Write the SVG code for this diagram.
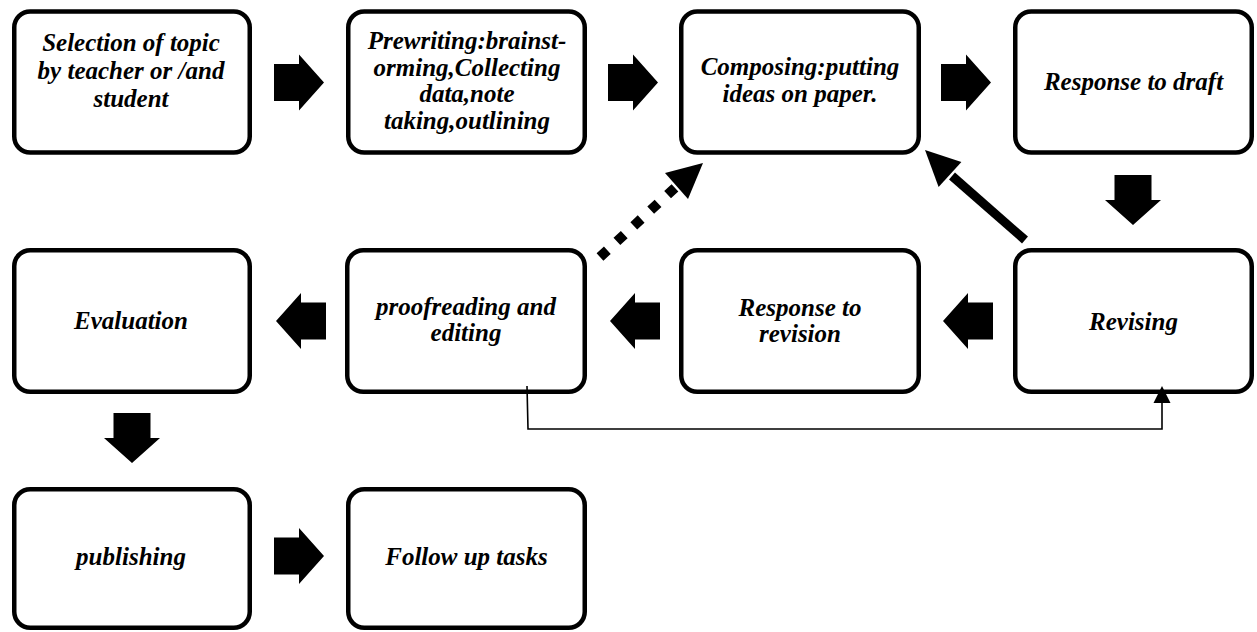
<svg xmlns="http://www.w3.org/2000/svg" width="1257" height="632" viewBox="0 0 1257 632">
<style>
.box{fill:#fff;stroke:#000;stroke-width:4.5}
.t{font-family:"Liberation Serif","Times New Roman",serif;font-size:25px;font-weight:bold;font-style:italic;text-anchor:middle;fill:#000}
.blk{fill:#000}
</style>
<defs>
<path id="barrow" d="M0,-18.5 H25 V-28 L50,0 L25,28 V18.5 H0 Z"/>
</defs>
<rect width="1257" height="632" fill="#fff"/>
<g id="n1"><rect class="box" x="14.25" y="11.5" width="235.5" height="141" rx="16"/>
<text class="t" x="131" y="51">Selection of topic</text><text class="t" x="131" y="79">by teacher or /and</text><text class="t" x="131" y="107">student</text></g>
<g id="n2"><rect class="box" x="348.25" y="11.5" width="236.5" height="141" rx="16"/>
<text class="t" x="467" y="49">Prewriting:brainst-</text><text class="t" x="467" y="75.5">orming,Collecting</text><text class="t" x="467" y="102">data,note</text><text class="t" x="467" y="128.5">taking,outlining</text></g>
<g id="n3"><rect class="box" x="681.25" y="11.5" width="237.5" height="141" rx="16"/>
<text class="t" x="800" y="75">Composing:putting</text><text class="t" x="800" y="102">ideas on paper.</text></g>
<g id="n4"><rect class="box" x="1015.25" y="11.5" width="236.5" height="141" rx="16"/>
<text class="t" x="1133.5" y="90">Response to draft</text></g>
<g id="n5"><rect class="box" x="14.25" y="250.25" width="235.5" height="141.5" rx="16"/>
<text class="t" x="131" y="329">Evaluation</text></g>
<g id="n6"><rect class="box" x="347.25" y="250.25" width="237.5" height="141.5" rx="16"/>
<text class="t" x="466" y="315">proofreading and</text><text class="t" x="466" y="341">editing</text></g>
<g id="n7"><rect class="box" x="681.25" y="250.25" width="237.5" height="141.5" rx="16"/>
<text class="t" x="800" y="316">Response to</text><text class="t" x="800" y="342">revision</text></g>
<g id="n8"><rect class="box" x="1015.25" y="250.25" width="236.5" height="141.5" rx="16"/>
<text class="t" x="1133.5" y="330">Revising</text></g>
<g id="n9"><rect class="box" x="14.25" y="489.25" width="235.5" height="138.5" rx="16"/>
<text class="t" x="131" y="565">publishing</text></g>
<g id="n10"><rect class="box" x="348.25" y="489.25" width="236.5" height="138.5" rx="16"/>
<text class="t" x="466.5" y="565">Follow up tasks</text></g>
<g id="connectors">
<use href="#barrow" class="blk" transform="translate(274,82.5)"/>
<use href="#barrow" class="blk" transform="translate(608,82.5)"/>
<use href="#barrow" class="blk" transform="translate(941,82.5)"/>
<use href="#barrow" class="blk" transform="translate(1133,175) rotate(90)"/>
<use href="#barrow" class="blk" transform="translate(993,321) rotate(180)"/>
<use href="#barrow" class="blk" transform="translate(660,321) rotate(180)"/>
<use href="#barrow" class="blk" transform="translate(326,321) rotate(180)"/>
<use href="#barrow" class="blk" transform="translate(132,413) rotate(90)"/>
<use href="#barrow" class="blk" transform="translate(274,556)"/>
<line x1="1025" y1="240" x2="952" y2="176" stroke="#000" stroke-width="9"/>
<polygon class="blk" points="925,150 961.4,161.9 938.6,187.1"/>
<line x1="600" y1="257" x2="678" y2="185" stroke="#000" stroke-width="10" stroke-dasharray="10 13"/>
<polygon class="blk" points="703,163 665,173 688,199"/>
<polyline points="527,386 528,429 1162,429 1162,402" fill="none" stroke="#000" stroke-width="1.6"/>
<polygon class="blk" points="1162,386 1153.5,403 1170.5,403"/>
</g>
</svg>
